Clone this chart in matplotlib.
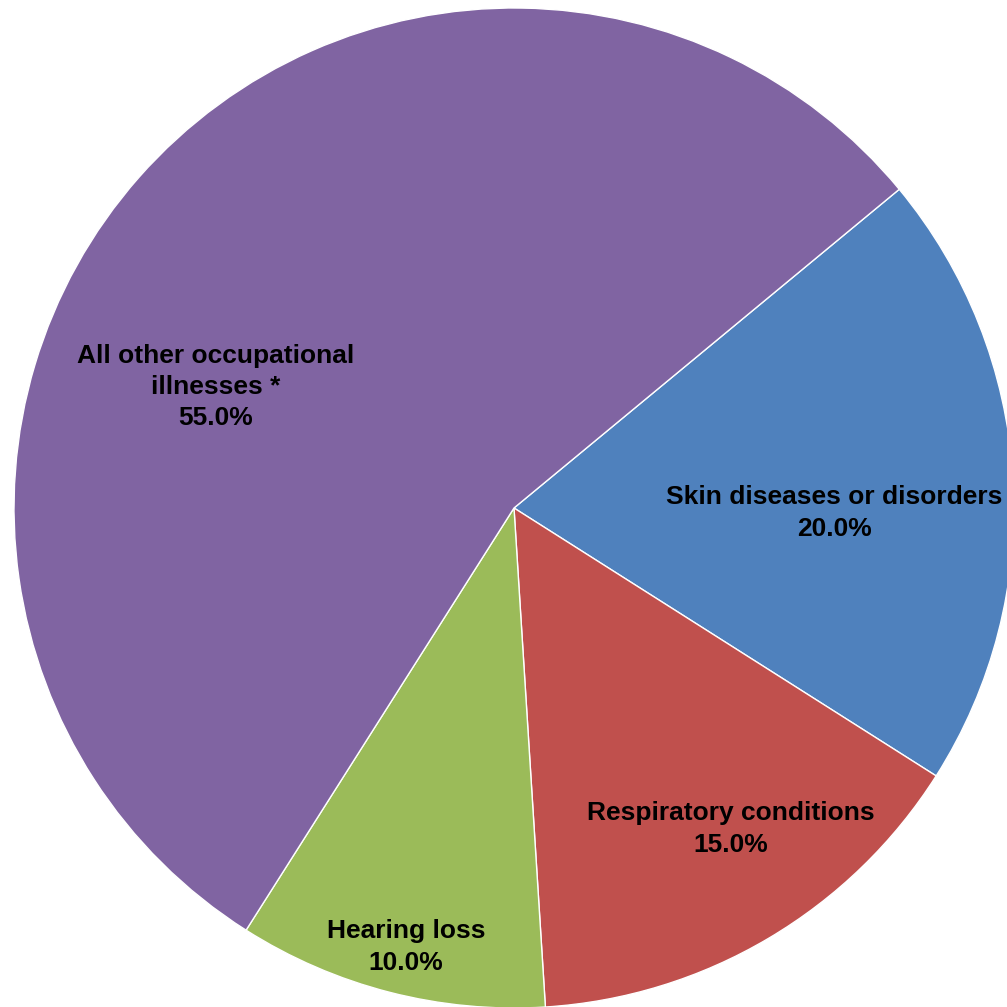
import numpy as np
import matplotlib
matplotlib.use("Agg")
import matplotlib.pyplot as plt

# slice data, clockwise from the purple/blue boundary
labels = ["Skin diseases or disorders", "Respiratory conditions", "Hearing loss",
          "All other occupational\nillnesses *"]
values = [20.0, 15.0, 10.0, 55.0]
colors = ["#4F81BD", "#C0504D", "#9BBB59", "#8064A2"]

# label centers in pixel coords (x, y from top)
label_pos = [(834, 513), (731, 829), (406, 947), (216, 387)]

W = H = 1007
fig = plt.figure(figsize=(W / 100, H / 100), dpi=100)
ax = fig.add_axes([0, 0, 1, 1])

cx, cy, r = 514, H - 508, 500
ax.pie(values, colors=colors, startangle=39.6, counterclock=False,
       center=(cx, cy), radius=r, frame=True,
       wedgeprops=dict(edgecolor="white", linewidth=1.0))
ax.set_xlim(0, W)
ax.set_ylim(0, H)
ax.set_aspect("equal")
ax.axis("off")

for lab, v, (px, py) in zip(labels, values, label_pos):
    ax.text(px, H - py, f"{lab}\n{v:.1f}%", ha="center", va="center",
            fontsize=19, fontweight="bold", family="Liberation Sans",
            linespacing=1.37, color="black")

fig.savefig("out.png", dpi=100)
